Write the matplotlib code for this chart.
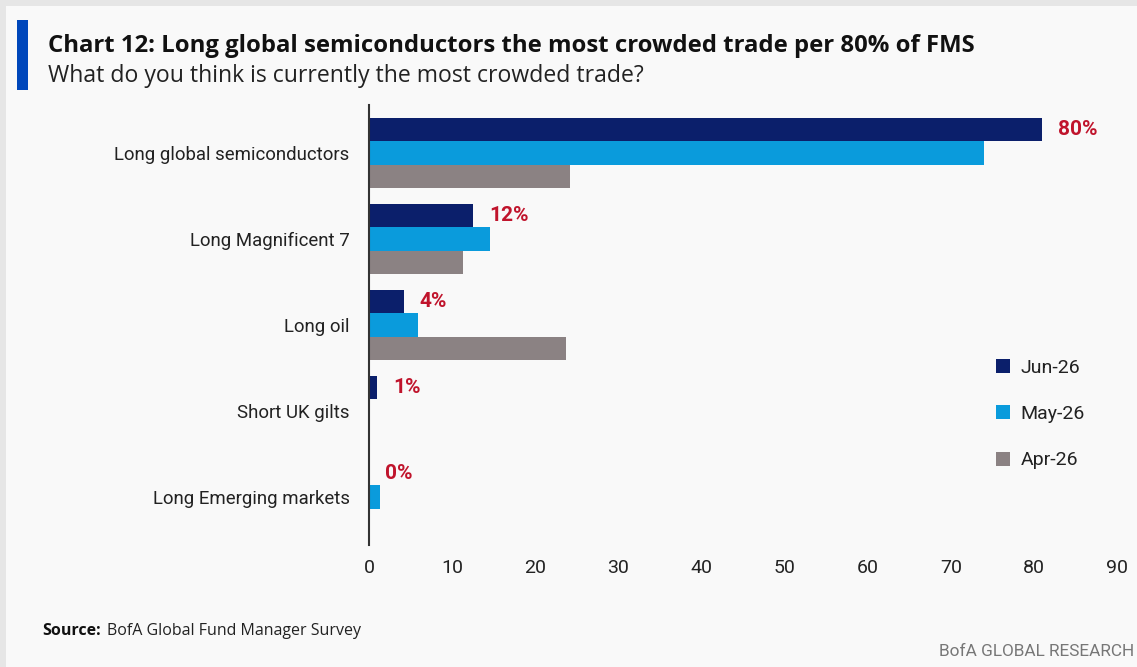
import matplotlib
matplotlib.use("Agg")
import matplotlib.pyplot as plt
from matplotlib.patches import Rectangle
import numpy as np

categories = ["Long global semiconductors", "Long Magnificent 7", "Long oil",
              "Short UK gilts", "Long Emerging markets"]
series_names = ["Jun-26", "May-26", "Apr-26"]
jun = [81, 12.5, 4.2, 1.0, 0]
may = [74, 14.5, 5.9, 0, 1.3]
apr = [24.2, 11.3, 23.7, 0, 0]
value_labels = ["80%", "12%", "4%", "1%", "0%"]
xticks = [0, 10, 20, 30, 40, 50, 60, 70, 80, 90]

colors = ["#0b1f6b", "#0a9bdc", "#8b8283"]
red = "#c0142c"
narrow = "Roboto"

W, H = 1137, 667
fig = plt.figure(figsize=(W / 100, H / 100), dpi=100)
fig.patch.set_facecolor("#e6e6e6")
fig.add_artist(Rectangle((6 / W, 0), 1 - 6 / W, 1 - 6 / H, transform=fig.transFigure,
                         facecolor="#f9f9f9", edgecolor="none", zorder=0))
# blue accent bar
fig.add_artist(Rectangle((17 / W, 1 - 90 / H), 11 / W, 70 / H, transform=fig.transFigure,
                         facecolor="#0047bb", edgecolor="none", zorder=1))

fig.text(48 / W, 1 - 46 / H, "Chart 12: Long global semiconductors the most crowded trade per 80% of FMS",
         fontsize=17.2, fontweight="bold", family="Open Sans", va="center", ha="left", color="#111111")
fig.text(48 / W, 1 - 76 / H, "What do you think is currently the most crowded trade?",
         fontsize=16.6, family="Open Sans", va="center", ha="left", color="#222222")

ax = fig.add_axes([369 / W, 1 - 545 / H, (1117 - 369) / W, 440 / H])
ax.set_facecolor("none")

y = np.arange(len(categories))
h = 0.27
for i, (vals, c, nm) in enumerate(zip([jun, may, apr], colors, series_names)):
    ax.barh(y + (i - 1) * h, vals, height=h, color=c, label=nm, zorder=2)

for yi, (j, lab) in enumerate(zip(jun, value_labels)):
    ax.annotate(lab, xy=(j, yi - h), xytext=(11.5, 0), textcoords="offset points",
                va="center", ha="left", color=red, fontsize=15, fontweight="bold",
                family=narrow)

ax.set_xlim(0, 90)
ax.set_ylim(4.558, -0.558)
ax.set_xticks(xticks)
ax.set_xticklabels([str(t) for t in xticks], family=narrow, fontsize=14, color="#222222")
ax.set_yticks(y)
ax.set_yticklabels(categories, family=narrow, fontsize=13.4, color="#222222")
ax.tick_params(axis="both", length=0)
ax.tick_params(axis="x", pad=10)
ax.tick_params(axis="y", pad=14)
for s in ["top", "right", "bottom"]:
    ax.spines[s].set_visible(False)
ax.spines["left"].set_color("#333333")
ax.spines["left"].set_linewidth(1.5)

leg = ax.legend(loc="upper left", bbox_to_anchor=(996 / W, 1 - 359 / H), bbox_transform=fig.transFigure,
                frameon=False, prop={"family": narrow, "size": 14}, handlelength=0.72, handleheight=0.72,
                labelspacing=1.45, handletextpad=0.55, borderaxespad=0, borderpad=0)
for t in leg.get_texts():
    t.set_color("#222222")

src = fig.text(42 / W, 1 - 631 / H, "Source:", fontsize=11.5, fontweight="bold", family="Open Sans",
               va="center", ha="left", color="#111111")
fig.canvas.draw()
bb = src.get_window_extent()
fig.text((bb.x1 + 6) / W, 1 - 631 / H, "BofA Global Fund Manager Survey", fontsize=11.5, family="Open Sans",
         va="center", ha="left", color="#222222")
fig.text(1134 / W, 1 - 652 / H, "BofA GLOBAL RESEARCH", fontsize=12.4, family=narrow,
         va="center", ha="right", color="#777777")

fig.savefig("out.png", dpi=100, facecolor=fig.get_facecolor())
